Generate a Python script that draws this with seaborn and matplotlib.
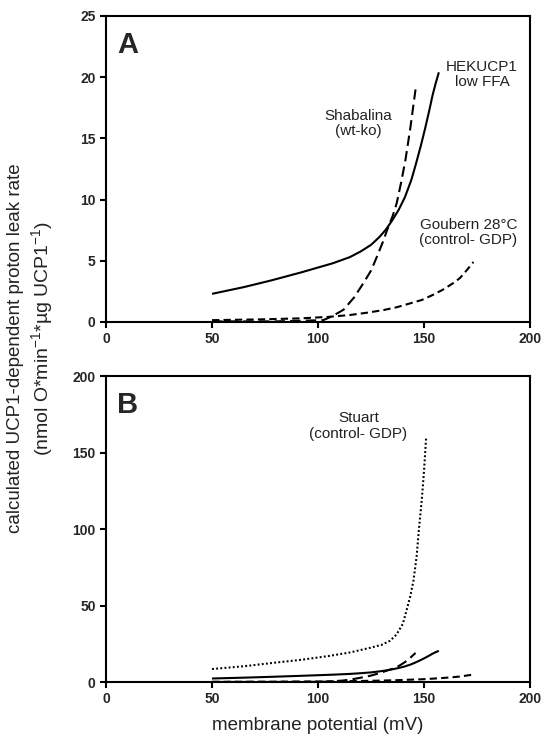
import matplotlib
matplotlib.use("Agg")
import matplotlib.pyplot as plt
import seaborn as sns
import pandas as pd

# Calculated UCP1-dependent proton leak rate vs membrane potential (mV)
hek_x = [50, 65, 78, 92, 107, 115, 120, 125, 129, 132, 135, 138, 141, 144, 146, 148.5, 150.5, 152.5, 154, 155.5, 157]
hek_y = [2.3, 2.85, 3.4, 4.05, 4.8, 5.3, 5.75, 6.3, 6.95, 7.55, 8.3, 9.15, 10.2, 11.6, 12.8, 14.4, 15.8, 17.3, 18.5, 19.5, 20.4]

shab_x = [50, 80, 102.5, 107, 112, 117, 121.5, 125, 127.7, 130.5, 133.2, 135.3, 137.1, 139.2, 141.2, 143.5, 146]
shab_y = [0.05, 0.05, 0.15, 0.5, 1.0, 2.0, 3.2, 4.2, 5.3, 6.5, 7.8, 8.7, 9.7, 11.4, 13.2, 15.8, 19.0]

goub_x = [50, 75, 92, 105, 115, 124, 131, 137, 143, 149, 154, 159, 164, 167, 170, 173.3]
goub_y = [0.15, 0.22, 0.3, 0.42, 0.57, 0.78, 0.98, 1.2, 1.5, 1.8, 2.2, 2.65, 3.2, 3.6, 4.2, 4.9]

stu_x = [50, 65, 78, 92, 105, 115, 125, 130, 134, 137, 140, 142, 143.5, 145, 146.5, 147.6, 149, 150, 151]
stu_y = [8.5, 10.3, 12.4, 14.5, 17.0, 19.3, 22.5, 24.3, 27.0, 31.0, 38.0, 48.0, 56.0, 66.0, 82.0, 100.0, 120.0, 138.0, 160.0]

x_ticks = [0, 50, 100, 150, 200]
a_ticks = [0, 5, 10, 15, 20, 25]
b_ticks = [0, 50, 100, 150, 200]

sns.set_theme(style="ticks")
plt.rcParams["font.family"] = ["Liberation Sans", "DejaVu Sans"]
plt.rcParams["mathtext.fontset"] = "custom"
plt.rcParams["mathtext.rm"] = "Liberation Sans"
plt.rcParams["mathtext.it"] = "Liberation Sans"

fig = plt.figure(figsize=(5.44, 7.37), dpi=100)
ax_a = fig.add_axes([0.1949, 0.5631, 0.7794, 0.4152])
ax_b = fig.add_axes([0.1949, 0.0746, 0.7794, 0.4152])

curves = [
    ("HEKUCP1", hek_x, hek_y, (None, None)),
    ("Shabalina", shab_x, shab_y, (5, 2.5)),
    ("Goubern", goub_x, goub_y, (3.5, 2)),
]

def draw(ax, series):
    for name, xs, ys, dash in series:
        df = pd.DataFrame({"mV": xs, "rate": ys})
        line = sns.lineplot(data=df, x="mV", y="rate", ax=ax, color="black",
                            lw=1.5, sort=False, estimator=None)
        ln = line.lines[-1]
        if dash[0] is not None:
            ln.set_dashes(dash)
        ln.set_solid_capstyle("butt")
        ln.set_solid_joinstyle("round")

draw(ax_a, curves)
draw(ax_b, curves)
df_s = pd.DataFrame({"mV": stu_x, "rate": stu_y})
sns.lineplot(data=df_s, x="mV", y="rate", ax=ax_b, color="black", lw=1.5,
             sort=False, estimator=None)
ax_b.lines[-1].set_dashes((0.9, 1.1))

for ax, yt in ((ax_a, a_ticks), (ax_b, b_ticks)):
    ax.set_xlim(0, 200)
    ax.set_ylim(yt[0], yt[-1])
    ax.set_xticks(x_ticks)
    ax.set_yticks(yt)
    ax.set_xlabel("")
    ax.set_ylabel("")
    for s in ax.spines.values():
        s.set_visible(True)
        s.set_linewidth(1.5)
        s.set_color("black")
    ax.tick_params(axis="both", direction="out", length=4, width=1.5,
                   color="black", labelsize=10, pad=3.5)
    for lab in ax.get_xticklabels() + ax.get_yticklabels():
        lab.set_fontweight("bold")

ax_a.text(0.026, 0.905, "A", transform=ax_a.transAxes, fontsize=21,
          fontweight="bold", ha="left", va="center")
ax_b.text(0.026, 0.905, "B", transform=ax_b.transAxes, fontsize=21,
          fontweight="bold", ha="left", va="center")

tcol = "#222222"
ax_a.text(177.4, 20.2, "HEKUCP1\nlow FFA", ha="center", va="center",
          fontsize=11, linespacing=1.1, color=tcol)
ax_a.text(119, 16.2, "Shabalina\n(wt-ko)", ha="center", va="center",
          fontsize=11, linespacing=1.1, color=tcol)
ax_a.text(171, 7.3, "Goubern 28°C\n(control- GDP)", ha="center", va="center",
          fontsize=11, linespacing=1.1, color=tcol)
ax_b.text(119, 167.3, "Stuart\n(control- GDP)", ha="center", va="center",
          fontsize=11, linespacing=1.1, color=tcol)

fig.text(0.029, 0.528, "calculated UCP1-dependent proton leak rate",
         rotation=90, ha="center", va="center", fontsize=13.5, color=tcol)
fig.text(0.077, 0.541, r"(nmol O*min$^{-1}$*µg UCP1$^{-1}$)",
         rotation=90, ha="center", va="center", fontsize=14, color=tcol)
fig.text(0.5846, 0.015, "membrane potential (mV)", ha="center", va="center",
         fontsize=13.5, color=tcol)

fig.savefig("out.png", dpi=100, facecolor="white")
